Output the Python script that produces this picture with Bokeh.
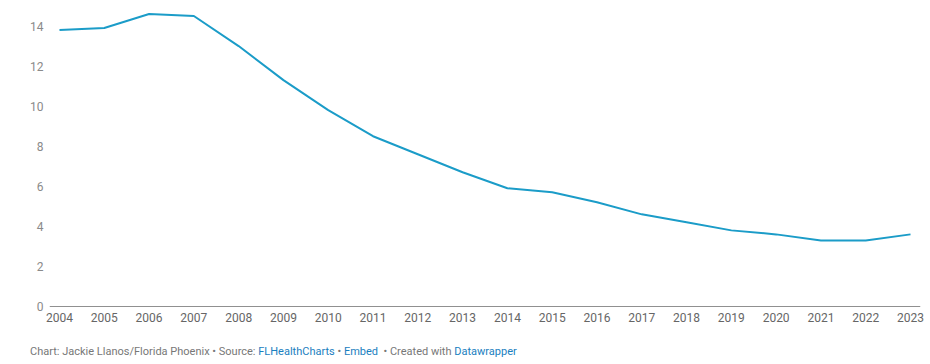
from bokeh.plotting import figure
from bokeh.models import FixedTicker, Range1d, Span, Div
from bokeh.layouts import column
from bokeh.embed import file_html
from bokeh.resources import INLINE

years = list(range(2004, 2024))
rates = [13.8, 13.9, 14.6, 14.5, 13.0, 11.3, 9.8, 8.5, 7.6, 6.7, 5.9, 5.7, 5.2, 4.6, 4.2, 3.8, 3.6, 3.3, 3.3, 3.6]
y_ticks = [0, 2, 4, 6, 8, 10, 12, 14]

LINE = "#1b9cc8"
LINK = "#1a80c0"
GRAY = "#777777"
FONT = "Roboto"

p = figure(width=930, height=338, output_backend="svg", toolbar_location=None,
           x_range=Range1d(2003.777, 2023.223), y_range=Range1d(0, 14.875),
           min_border_left=49, min_border_right=10, min_border_top=8, min_border_bottom=32)
p.outline_line_color = None
p.grid.visible = False
p.background_fill_color = "white"

p.line(years, rates, line_color=LINE, line_width=2)

p.add_layout(Span(location=0, dimension="width", line_color="#222222", line_width=1.2))

p.xaxis.ticker = FixedTicker(ticks=years)
p.yaxis.ticker = FixedTicker(ticks=y_ticks)
for ax in (p.xaxis, p.yaxis):
    ax.axis_line_color = None
    ax.major_tick_line_color = None
    ax.minor_tick_line_color = None
    ax.major_label_text_font = FONT
    ax.major_label_text_font_size = "12px"
p.yaxis.major_label_text_color = "#8a8a8a"
p.xaxis.major_label_text_color = "#666666"
p.yaxis.major_label_standoff = 0
p.xaxis.major_label_standoff = 0

footer_html = (
    f'<span style="color:{GRAY}">Chart: Jackie Llanos/Florida Phoenix \u2022 Source: </span>'
    f'<span style="color:{LINK}">FLHealthCharts</span>'
    f'<span style="color:{GRAY}"> \u2022 </span>'
    f'<span style="color:{LINK}">Embed</span>'
    f'<span style="color:{GRAY}">&nbsp; \u2022 Created with </span>'
    f'<span style="color:{LINK}">Datawrapper</span>'
)
footer = Div(text=footer_html, width=900, height=26, margin=(0, 0, 0, 30),
             styles={"font-family": FONT, "font-size": "11px", "line-height": "28px",
                     "white-space": "nowrap"})

layout = column(p, footer, spacing=0)
open("out.html", "w").write(file_html(layout, INLINE))
